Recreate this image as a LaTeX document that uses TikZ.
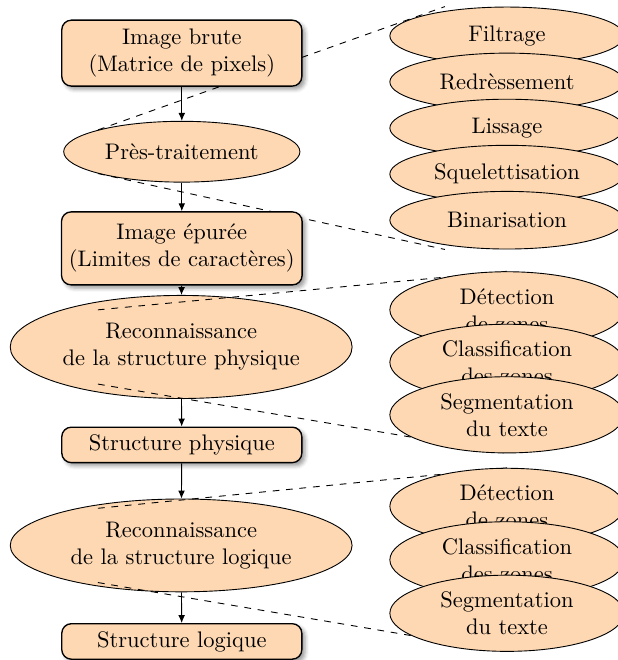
\documentclass[tikz,border=0pt]{standalone}
\usepackage{fontspec}
\usetikzlibrary{arrows.meta,positioning,calc,shapes.geometric,shadows.blur}
\definecolor{peach}{RGB}{253,216,179}
\pgfdeclarelayer{front}
\pgfsetlayers{main,front}
\tikzset{
    etape/.style={rectangle, rounded corners=1.5mm, draw=black, semithick, fill=peach, align=center, minimum width=3.75cm, blur shadow={shadow xshift=0.5mm, shadow yshift=-0.5mm, shadow blur steps=4, shadow opacity=40}},
    traitement/.style={ellipse, draw=black, fill=peach, align=center, inner sep=1pt},
    sousop/.style={ellipse, draw=black, fill=peach, align=center, inner sep=1pt, minimum width=3.66cm, minimum height=0.9cm},
    sousopdeux/.style={sousop, minimum height=1.19cm},
    fleche/.style={-{Latex[length=3.5pt,width=3pt]}},
    zoomligne/.style={dashed}
}

\begin{document}
\begin{tikzpicture}
\useasboundingbox (0,0) rectangle (9.64,-10.31);

% chaine principale
\node[traitement, minimum width=3.69cm, minimum height=0.95cm] (pres) at (2.84,-2.37) {Près-traitement};
\node[traitement, minimum width=5.34cm, minimum height=1.61cm] (recphys) at (2.83,-5.42) {Reconnaissance\\de la structure physique};
\node[traitement, minimum width=5.34cm, minimum height=1.45cm] (reclog) at (2.83,-8.52) {Reconnaissance\\de la structure logique};
\begin{pgfonlayer}{front}
\node[etape, minimum height=1.03cm] (brute) at (2.84,-0.83) {Image brute\\(Matrice de pixels)};
\node[etape, minimum height=1.14cm] (epuree) at (2.84,-3.88) {Image épurée\\(Limites de caractères)};
\node[etape, minimum height=0.55cm] (strphys) at (2.84,-6.95) {Structure physique};
\node[etape, minimum height=0.55cm] (strlog) at (2.84,-10.02) {Structure logique};
\end{pgfonlayer}

\draw[fleche] (brute) -- (pres);
\draw[fleche] (pres) -- (epuree);
\draw[fleche] (epuree) -- (recphys);
\draw[fleche] (recphys) -- (strphys);
\draw[fleche] (strphys) -- (reclog);
\draw[fleche] (reclog) -- (strlog);

% operations de detail
\begin{pgfonlayer}{front}
\foreach \t [count=\i] in {Filtrage,Redrèssement,Lissage,Squelettisation,Binarisation}
  \node[sousop] (f\i) at (7.92,{-0.56-0.72*(\i-1)}) {\t};
\foreach \t [count=\i] in {Détection\\de zones,Classification\\des zones,Segmentation\\du texte} {
  \node[sousopdeux] (p\i) at (7.92,{-4.84-0.82*(\i-1)}) {\t};
  \node[sousopdeux] (l\i) at (7.92,{-7.91-0.835*(\i-1)}) {\t};
}
\end{pgfonlayer}

% lignes de zoom
\coordinate (f1haut) at ($(f1.north)+(-0.97,0)$);
\coordinate (f5bas) at ($(f5.south)+(-0.97,0)$);
\coordinate (phaut) at ($(recphys.center)+(-1.3,0.58)$);
\coordinate (pbas) at ($(recphys.center)+(-1.3,-0.58)$);
\coordinate (lhaut) at ($(reclog.center)+(-1.3,0.58)$);
\coordinate (lbas) at ($(reclog.center)+(-1.3,-0.58)$);

\draw[zoomligne] (pres.north west) -- (f1haut);
\draw[zoomligne] (pres.south west) -- (f5bas);
\draw[zoomligne] (phaut) -- (p1.north);
\draw[zoomligne] (pbas) -- (p3.south);
\draw[zoomligne] (lhaut) -- (l1.north);
\draw[zoomligne] (lbas) -- (l3.south);

\end{tikzpicture}
\end{document}
